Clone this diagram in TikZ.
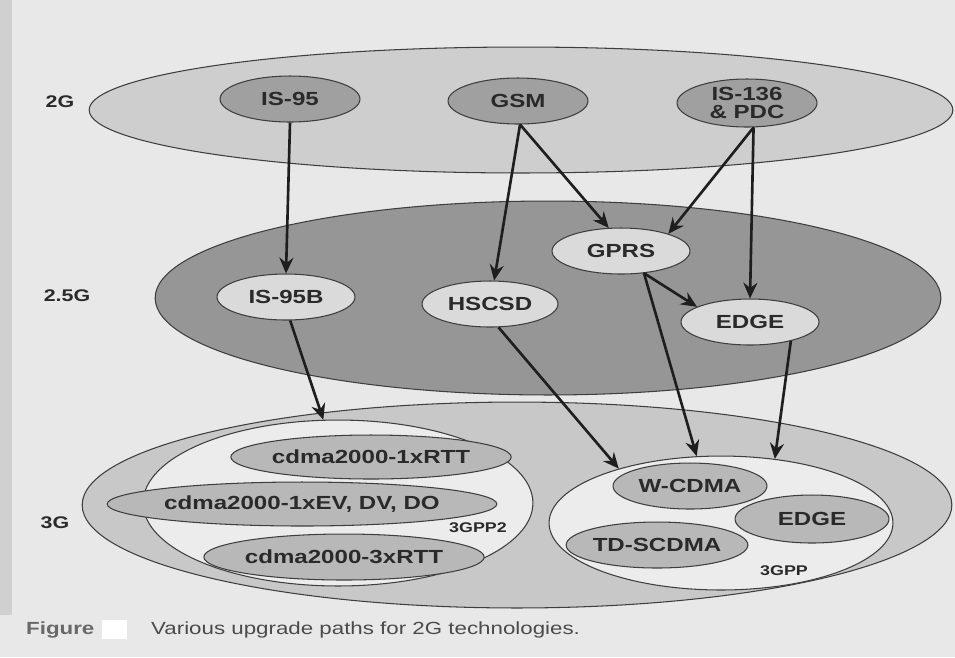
\documentclass[tikz,border=0pt]{standalone}
\usepackage{fontspec}
\setmainfont{Liberation Sans}[FakeStretch=1.27]
\usetikzlibrary{shapes.geometric,arrows.meta}
\definecolor{bgc}{RGB}{232,232,232}
\definecolor{stripc}{RGB}{208,208,208}
\definecolor{c2g}{RGB}{206,206,206}
\definecolor{c2gn}{RGB}{160,160,160}
\definecolor{c25}{RGB}{150,150,150}
\definecolor{c25n}{RGB}{218,218,218}
\definecolor{c3g}{RGB}{200,200,200}
\definecolor{cin}{RGB}{236,236,236}
\definecolor{c3n}{RGB}{184,184,184}
\definecolor{linec}{RGB}{62,62,62}
\definecolor{arrc}{RGB}{30,30,30}
\definecolor{txtc}{RGB}{42,42,42}
\definecolor{figc}{RGB}{105,105,105}
\begin{document}
\begin{tikzpicture}[x=0.02cm,y=-0.02cm,
  ell/.style={ellipse, draw=linec, line width=0.6pt, inner sep=0pt},
  sz/.style 2 args={minimum width={#1*0.04cm}, minimum height={#2*0.04cm}},
  lbl/.style={text=txtc, font=\fontsize{10.8}{10.3}\selectfont\bfseries, align=center},
  side/.style={text=txtc, font=\fontsize{9.6}{11}\selectfont\bfseries},
  grp/.style={text=txtc, font=\fontsize{8}{9}\selectfont\bfseries},
  arr/.style={draw=arrc, line width=1.5pt, -{Stealth[length=9pt,width=8pt,inset=3pt]}}]
\useasboundingbox (0,0) rectangle (955,657);
\fill[bgc] (0,0) rectangle (955,657);
\fill[stripc] (0,0) rectangle (12,615);
% big ellipses
\node (g2) [ell, sz={432}{63}, fill=c2g] at (521,110) {};
\node (g25) [ell, sz={393}{97}, fill=c25] at (548,298) {};
\node (g3) [ell, sz={435}{103}, fill=c3g] at (517,505) {};
% side labels
\node (l2g) [side] at (60,102) {2G};
\node (l25g) [side] at (67,296) {2.5G};
\node (l3g) [side] at (55,523) {3G};
% 2G nodes
\node (is95) [ell, sz={70}{23}, fill=c2gn, lbl] at (290,99) {IS-95};
\node (gsm) [ell, sz={70}{23}, fill=c2gn, lbl] at (518,101) {GSM};
\node (is136) [ell, sz={70}{24}, fill=c2gn, lbl] at (747,103) {IS-136\\\& PDC};
% 2.5G nodes
\node (is95b) [ell, sz={69}{23}, fill=c25n, lbl] at (286,297) {IS-95B};
\node (hscsd) [ell, sz={68}{23}, fill=c25n, lbl] at (490,304) {HSCSD};
\node (gprs) [ell, sz={69}{23}, fill=c25n, lbl] at (621,251) {GPRS};
\node (edgea) [ell, sz={69}{23}, fill=c25n, lbl] at (750,322) {EDGE};
% 3G groups
\node (gpp2) [ell, sz={195}{83}, fill=cin] at (338,503) {};
\node (gpp) [ell, sz={172}{67}, fill=cin] at (721,523) {};
\node (rtt1) [ell, sz={114}{22}, fill=c3n, lbl] at (371,457) {cdma2000-1xRTT};
\node (ev) [ell, sz={158}{22}, fill=c3n, lbl] at (302,504) {cdma2000-1xEV, DV, DO};
\node (rtt3) [ell, sz={114}{23}, fill=c3n, lbl] at (344,557) {cdma2000-3xRTT};
\node (lgpp2) [grp] at (478,528) {3GPP2};
\node (wcdma) [ell, sz={77}{23}, fill=c3n, lbl] at (690,486) {W-CDMA};
\node (edgeb) [ell, sz={77}{24}, fill=c3n, lbl] at (812,519) {EDGE};
\node (tds) [ell, sz={86}{23}, fill=c3n, lbl] at (657,545) {TD-SCDMA};
\node (lgpp) [grp] at (784,571) {3GPP};
% arrows
\draw[arr] (is95.south) -- (is95b.north);
\draw[arr] (gsm.-85) -- (hscsd.80);
\draw[arr] (gsm.-85) -- (gprs.118);
\draw[arr] (is136.-75) -- (gprs.20);
\draw[arr] (is136.-75) -- (edgea.north);
\draw[arr] (gprs.-44) -- (edgea.164);
\draw[arr] (is95b.-80) -- (gpp2.100);
\draw[arr] (hscsd.-70) -- (gpp.152);
\draw[arr] (gprs.-44) -- (gpp.110);
\draw[arr] (edgea.-25) -- (gpp.50);
% caption
\node (fig) [anchor=west, text=figc, font=\fontsize{10}{12}\selectfont\bfseries] at (20,630) {Figure};
\node (blank) [fill=white, inner sep=0pt, minimum width=0.5cm, minimum height=0.38cm] at (114,629) {};
\node (cap) [anchor=west, text=txtc!85, font=\fontsize{10}{12}\selectfont] at (145,630) {Various upgrade paths for 2G technologies.};
\end{tikzpicture}
\end{document}
